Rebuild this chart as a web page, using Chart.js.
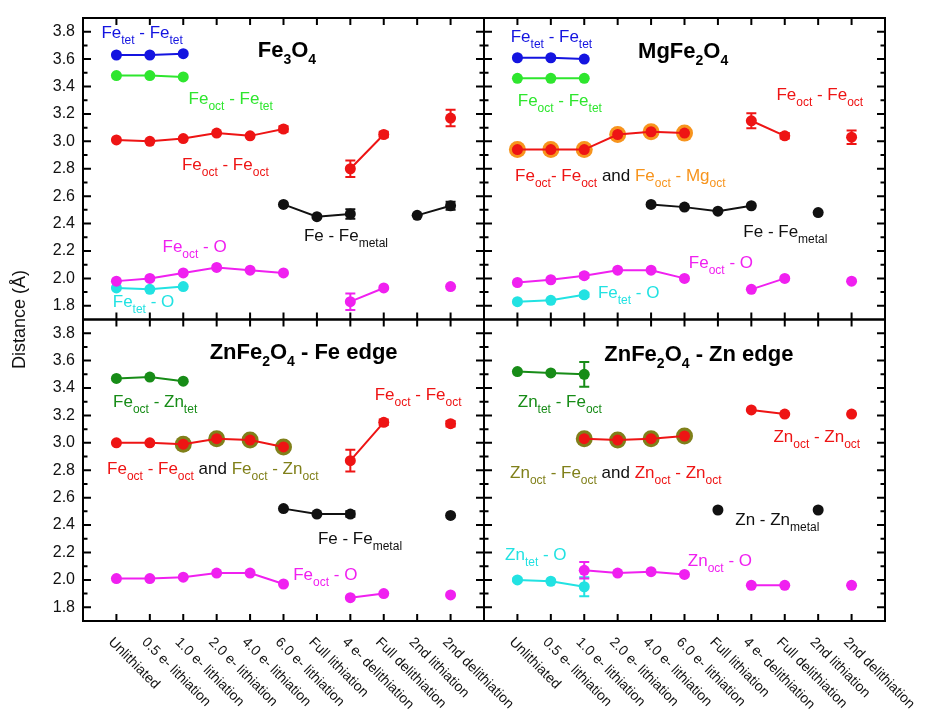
<!DOCTYPE html>
<html>
<head>
<meta charset="utf-8">
<script src="https://cdn.jsdelivr.net/npm/chart.js@4/dist/chart.umd.min.js"></script>
<style>
  html, body { margin: 0; padding: 0; background: #fff; }
  #wrap { width: 926px; height: 716px; position: relative; }
</style>
</head>
<body>
<div id="wrap"><canvas id="c" width="926" height="716"></canvas></div>
<script>
// Stages along the cycling sequence (shared by every panel)
const stages = ['Unlithiated', '0.5 e- lithiation', '1.0 e- lithiation', '2.0 e- lithiation',
  '4.0 e- lithiation', '6.0 e- lithiation', 'Full lithiation', '4 e- delithiation',
  'Full delithiation', '2nd lithiation', '2nd delithiation'];
const yTickLabels = ['1.8', '2.0', '2.2', '2.4', '2.6', '2.8', '3.0', '3.2', '3.4', '3.6', '3.8'];

// ---- Fe3O4 ----
const fe3o4TetTet    = [3.63, 3.63, 3.64, null, null, null, null, null, null, null, null];
const fe3o4OctTet    = [3.48, 3.48, 3.47, null, null, null, null, null, null, null, null];
const fe3o4OctOct    = [3.01, 3.00, 3.02, 3.06, 3.04, 3.09, null, 2.80, 3.05, null, 3.17];
const fe3o4OctOctErr = [0, 0, 0, 0, 0, 0.02, 0, 0.06, 0.02, 0, 0.06];
const fe3o4Metal     = [null, null, null, null, null, 2.54, 2.45, 2.47, null, 2.46, 2.53];
const fe3o4MetalErr  = [0, 0, 0, 0, 0, 0, 0, 0.035, 0, 0, 0.03];
const fe3o4OctO      = [1.98, 2.00, 2.04, 2.08, 2.06, 2.04, null, 1.83, 1.93, null, 1.94];
const fe3o4OctOErr   = [0, 0, 0, 0, 0, 0, 0, 0.06, 0, 0, 0];
const fe3o4TetO      = [1.93, 1.92, 1.94, null, null, null, null, null, null, null, null];

// ---- MgFe2O4 ----
const mgTetTet    = [3.61, 3.61, 3.60, null, null, null, null, null, null, null, null];
const mgOctTet    = [3.46, 3.46, 3.46, null, null, null, null, null, null, null, null];
const mgOctMg     = [2.94, 2.94, 2.94, 3.05, 3.07, 3.06, null, null, null, null, null];
const mgOctOct    = [2.94, 2.94, 2.94, 3.05, 3.07, 3.06, null, 3.15, 3.04, null, 3.03];
const mgOctOctErr = [0, 0, 0, 0, 0, 0, 0, 0.055, 0.02, 0, 0.05];
const mgMetal     = [null, null, null, null, 2.54, 2.52, 2.49, 2.53, null, 2.48, null];
const mgOctO      = [1.97, 1.99, 2.02, 2.06, 2.06, 2.00, null, 1.92, 2.00, null, 1.98];
const mgOctOErr   = [0, 0, 0.015, 0, 0, 0, 0, 0, 0, 0, 0];
const mgTetO      = [1.83, 1.84, 1.88, null, null, null, null, null, null, null, null];
const mgTetOErr   = [0, 0, 0.015, 0, 0, 0, 0, 0, 0, 0, 0];

// ---- ZnFe2O4, Fe K-edge ----
const znFeOctZnTet  = [3.47, 3.48, 3.45, null, null, null, null, null, null, null, null];
const znFeOctZnOct  = [null, null, 2.99, 3.03, 3.02, 2.97, null, null, null, null, null];
const znFeOctOct    = [3.00, 3.00, 2.99, 3.03, 3.02, 2.97, null, 2.87, 3.15, null, 3.14];
const znFeOctOctErr = [0, 0, 0, 0, 0, 0, 0, 0.08, 0.02, 0, 0.02];
const znFeMetal     = [null, null, null, null, null, 2.52, 2.48, 2.48, null, null, 2.47];
const znFeMetalErr  = [0, 0, 0, 0, 0, 0, 0, 0.02, 0, 0, 0];
const znFeOctO      = [2.01, 2.01, 2.02, 2.05, 2.05, 1.97, null, 1.87, 1.90, null, 1.89];

// ---- ZnFe2O4, Zn K-edge ----
const znZnTetFeOct    = [3.52, 3.51, 3.50, null, null, null, null, null, null, null, null];
const znZnTetFeOctErr = [0, 0, 0.09, 0, 0, 0, 0, 0, 0, 0, 0];
const znZnOctFeOct    = [null, null, 3.03, 3.02, 3.03, 3.05, null, null, null, null, null];
const znZnOctZnOct    = [null, null, 3.03, 3.02, 3.03, 3.05, null, 3.24, 3.21, null, 3.21];
const znZnMetal       = [null, null, null, null, null, null, 2.51, null, null, 2.51, null];
const znZnTetO        = [2.00, 1.99, 1.95, null, null, null, null, null, null, null, null];
const znZnTetOErr     = [0.01, 0, 0.07, 0, 0, 0, 0, 0, 0, 0, 0];
const znZnOctO        = [null, null, 2.07, 2.05, 2.06, 2.04, null, 1.96, 1.96, null, 1.96];
const znZnOctOErr     = [0, 0, 0.06, 0, 0, 0, 0, 0, 0, 0, 0];

// palette
const C = {
  blue: '#1414e0', lime: '#2ee62e', red: '#ee1414', black: '#111111', magenta: '#f020f0',
  cyan: '#22e2e2', dgreen: '#178c17', olive: '#80801a', orange: '#f7941d'
};
const FONT = '"Liberation Sans", Arial, Helvetica, sans-serif';

function series(values, color, xAxisID, yAxisID, extra) {
  return Object.assign({
    data: values.map((v, i) => ({ x: i, y: v })),
    xAxisID, yAxisID,
    borderColor: color, backgroundColor: color,
    pointBackgroundColor: color, pointBorderColor: color,
    borderWidth: 2, pointRadius: 5.5, pointBorderWidth: 0, pointHoverRadius: 5.5,
    spanGaps: false, order: 0
  }, extra || {});
}
// large halo marker drawn beneath a red series
function halo(values, color, xAxisID, yAxisID) {
  return series(values, color, xAxisID, yAxisID, { showLine: false, pointRadius: 8.5, pointHoverRadius: 8.5, order: 5 });
}

const datasets = [
  // Fe3O4
  series(fe3o4TetTet, C.blue, 'xL', 'yT'),
  series(fe3o4OctTet, C.lime, 'xL', 'yT'),
  series(fe3o4OctOct, C.red, 'xL', 'yT', { err: fe3o4OctOctErr }),
  series(fe3o4Metal, C.black, 'xL', 'yT', { err: fe3o4MetalErr }),
  series(fe3o4OctO, C.magenta, 'xL', 'yT', { err: fe3o4OctOErr }),
  series(fe3o4TetO, C.cyan, 'xL', 'yT'),
  // MgFe2O4
  series(mgTetTet, C.blue, 'xR', 'yT'),
  series(mgOctTet, C.lime, 'xR', 'yT'),
  halo(mgOctMg, C.orange, 'xR', 'yT'),
  series(mgOctOct, C.red, 'xR', 'yT', { err: mgOctOctErr }),
  series(mgMetal, C.black, 'xR', 'yT'),
  series(mgOctO, C.magenta, 'xR', 'yT', { err: mgOctOErr }),
  series(mgTetO, C.cyan, 'xR', 'yT', { err: mgTetOErr }),
  // ZnFe2O4 - Fe edge
  series(znFeOctZnTet, C.dgreen, 'xL', 'yB'),
  halo(znFeOctZnOct, C.olive, 'xL', 'yB'),
  series(znFeOctOct, C.red, 'xL', 'yB', { err: znFeOctOctErr }),
  series(znFeMetal, C.black, 'xL', 'yB', { err: znFeMetalErr }),
  series(znFeOctO, C.magenta, 'xL', 'yB'),
  // ZnFe2O4 - Zn edge
  series(znZnTetFeOct, C.dgreen, 'xR', 'yB', { err: znZnTetFeOctErr }),
  halo(znZnOctFeOct, C.olive, 'xR', 'yB'),
  series(znZnOctZnOct, C.red, 'xR', 'yB'),
  series(znZnMetal, C.black, 'xR', 'yB'),
  series(znZnTetO, C.cyan, 'xR', 'yB', { err: znZnTetOErr }),
  series(znZnOctO, C.magenta, 'xR', 'yB', { err: znZnOctOErr })
];

// Panel captions and bond labels, anchored in data coordinates (left edge, baseline)
const titles = [
  { x: 'xL', y: 'yT', at: [4.23, 3.617], text: 'Fe_{3}O_{4}' },
  { x: 'xR', y: 'yT', at: [3.61, 3.61], text: 'MgFe_{2}O_{4}' },
  { x: 'xL', y: 'yB', at: [2.79, 3.613], text: 'ZnFe_{2}O_{4} - Fe edge' },
  { x: 'xR', y: 'yB', at: [2.60, 3.595], text: 'ZnFe_{2}O_{4} - Zn edge' }
];
const notes = [
  // Fe3O4
  { x: 'xL', y: 'yT', at: [-0.45, 3.752], parts: [['Fe_{tet} - Fe_{tet}', C.blue]] },
  { x: 'xL', y: 'yT', at: [2.16, 3.275], parts: [['Fe_{oct} - Fe_{tet}', C.lime]] },
  { x: 'xL', y: 'yT', at: [1.96, 2.788], parts: [['Fe_{oct} - Fe_{oct}', C.red]] },
  { x: 'xL', y: 'yT', at: [5.61, 2.275], parts: [['Fe - Fe_{metal}', C.black]] },
  { x: 'xL', y: 'yT', at: [1.38, 2.19], parts: [['Fe_{oct} - O', C.magenta]] },
  { x: 'xL', y: 'yT', at: [-0.11, 1.788], parts: [['Fe_{tet} - O', C.cyan]] },
  // MgFe2O4
  { x: 'xR', y: 'yT', at: [-0.2, 3.724], parts: [['Fe_{tet} - Fe_{tet}', C.blue]] },
  { x: 'xR', y: 'yT', at: [0.01, 3.256], parts: [['Fe_{oct} - Fe_{tet}', C.lime]] },
  { x: 'xR', y: 'yT', at: [7.75, 3.305], parts: [['Fe_{oct} - Fe_{oct}', C.red]] },
  { x: 'xR', y: 'yT', at: [-0.07, 2.714], parts: [['Fe_{oct}- Fe_{oct}', C.red], [' and ', C.black], ['Fe_{oct} - Mg_{oct}', C.orange]] },
  { x: 'xR', y: 'yT', at: [6.76, 2.305], parts: [['Fe - Fe_{metal}', C.black]] },
  { x: 'xR', y: 'yT', at: [5.13, 2.078], parts: [['Fe_{oct} - O', C.magenta]] },
  { x: 'xR', y: 'yT', at: [2.41, 1.854], parts: [['Fe_{tet} - O', C.cyan]] },
  // ZnFe2O4 - Fe edge
  { x: 'xL', y: 'yB', at: [-0.1, 3.264], parts: [['Fe_{oct} - Zn_{tet}', C.dgreen]] },
  { x: 'xL', y: 'yB', at: [-0.28, 2.771], parts: [['Fe_{oct} - Fe_{oct}', C.red], [' and ', C.black], ['Fe_{oct} - Zn_{oct}', C.olive]] },
  { x: 'xL', y: 'yB', at: [7.73, 3.313], parts: [['Fe_{oct} - Fe_{oct}', C.red]] },
  { x: 'xL', y: 'yB', at: [6.03, 2.264], parts: [['Fe - Fe_{metal}', C.black]] },
  { x: 'xL', y: 'yB', at: [5.29, 1.996], parts: [['Fe_{oct} - O', C.magenta]] },
  // ZnFe2O4 - Zn edge
  { x: 'xR', y: 'yB', at: [0.01, 3.264], parts: [['Zn_{tet} - Fe_{oct}', C.dgreen]] },
  { x: 'xR', y: 'yB', at: [-0.22, 2.747], parts: [['Zn_{oct} - Fe_{oct}', C.olive], [' and ', C.black], ['Zn_{oct} - Zn_{oct}', C.red]] },
  { x: 'xR', y: 'yB', at: [7.66, 3.003], parts: [['Zn_{oct} - Zn_{oct}', C.red]] },
  { x: 'xR', y: 'yB', at: [6.52, 2.40], parts: [['Zn - Zn_{metal}', C.black]] },
  { x: 'xR', y: 'yB', at: [-0.37, 2.147], parts: [['Zn_{tet} - O', C.cyan]] },
  { x: 'xR', y: 'yB', at: [5.1, 2.10], parts: [['Zn_{oct} - O', C.magenta]] }
];

// split "Fe_{oct} - O" into plain / subscript runs
function runs(str) {
  const out = [];
  const re = /_\{([^}]*)\}/g;
  let last = 0, m;
  while ((m = re.exec(str))) {
    if (m.index > last) out.push({ t: str.slice(last, m.index), sub: false });
    out.push({ t: m[1], sub: true });
    last = re.lastIndex;
  }
  if (last < str.length) out.push({ t: str.slice(last), sub: false });
  return out;
}
function drawRich(ctx, x, y, parts, sz) {
  let cx = x;
  ctx.textAlign = 'left';
  ctx.textBaseline = 'alphabetic';
  for (const [str, color] of parts) {
    for (const r of runs(str)) {
      ctx.font = (sz.bold ? 'bold ' : '') + (r.sub ? sz.sub : sz.main) + 'px ' + FONT;
      ctx.fillStyle = color;
      ctx.fillText(r.t, cx, r.sub ? y + sz.off : y);
      cx += ctx.measureText(r.t).width;
    }
  }
}

// Vertical error bars with caps, drawn from each dataset's own scales
const errorBars = {
  id: 'errorBars',
  afterDatasetsDraw(chart) {
    const ctx = chart.ctx;
    ctx.save();
    chart.data.datasets.forEach((ds, i) => {
      if (!ds.err) return;
      const ys = chart.scales[ds.yAxisID];
      const meta = chart.getDatasetMeta(i);
      ds.data.forEach((p, j) => {
        const e = ds.err[j];
        if (p.y == null || !e) return;
        const px = meta.data[j].x;
        const top = ys.getPixelForValue(p.y + e);
        const bot = ys.getPixelForValue(p.y - e);
        ctx.strokeStyle = ds.borderColor;
        ctx.lineWidth = 2;
        ctx.beginPath();
        ctx.moveTo(px, top); ctx.lineTo(px, bot);
        ctx.moveTo(px - 5, top); ctx.lineTo(px + 5, top);
        ctx.moveTo(px - 5, bot); ctx.lineTo(px + 5, bot);
        ctx.stroke();
      });
    });
    ctx.restore();
  }
};

// Panel frames with inward ticks, tick labels, axis title and annotations
const frames = {
  id: 'frames',
  afterDraw(chart) {
    const ctx = chart.ctx;
    const S = chart.scales;
    ctx.save();
    ctx.strokeStyle = '#000';
    ctx.lineWidth = 2;
    const pairs = [['xL', 'yT'], ['xR', 'yT'], ['xL', 'yB'], ['xR', 'yB']];
    for (const [xk, yk] of pairs) {
      const xs = S[xk], ys = S[yk];
      ctx.strokeRect(xs.left, ys.top, xs.right - xs.left, ys.bottom - ys.top);
      ctx.beginPath();
      for (let k = 18; k <= 38; k++) {
        const py = ys.getPixelForValue(k / 10);
        const len = k % 2 === 0 ? 8 : 4.5;
        ctx.moveTo(xs.left, py); ctx.lineTo(xs.left + len, py);
        ctx.moveTo(xs.right, py); ctx.lineTo(xs.right - len, py);
      }
      for (let i = 0; i < stages.length; i++) {
        const px = xs.getPixelForValue(i);
        ctx.moveTo(px, ys.top); ctx.lineTo(px, ys.top + 7);
        ctx.moveTo(px, ys.bottom); ctx.lineTo(px, ys.bottom - 7);
      }
      ctx.stroke();
    }

    // y tick labels (left panels only)
    ctx.fillStyle = '#111';
    ctx.font = '16px ' + FONT;
    ctx.textAlign = 'right';
    ctx.textBaseline = 'middle';
    for (const yk of ['yT', 'yB']) {
      yTickLabels.forEach(lbl => {
        ctx.fillText(lbl, S.xL.left - 8, S[yk].getPixelForValue(parseFloat(lbl)));
      });
    }

    // rotated stage labels under the bottom panels
    ctx.font = '14px ' + FONT;
    ctx.textAlign = 'left';
    ctx.textBaseline = 'top';
    for (const xk of ['xL', 'xR']) {
      stages.forEach((lbl, i) => {
        const px = S[xk].getPixelForValue(i);
        ctx.save();
        ctx.translate(px - 1, S.yB.bottom + 14);
        ctx.rotate(Math.PI / 4);
        ctx.fillText(lbl, 0, 0);
        ctx.restore();
      });
    }

    // shared y-axis title
    ctx.save();
    ctx.font = '18px ' + FONT;
    ctx.textAlign = 'center';
    ctx.textBaseline = 'middle';
    ctx.translate(20, (S.yT.top + S.yB.bottom) / 2);
    ctx.rotate(-Math.PI / 2);
    ctx.fillText('Distance (\u00C5)', 0, 0);
    ctx.restore();

    // panel captions
    for (const t of titles) {
      const px = S[t.x].getPixelForValue(t.at[0]);
      const py = S[t.y].getPixelForValue(t.at[1]);
      drawRich(ctx, px, py, [[t.text, '#000']], { main: 22, sub: 14, off: 7, bold: true });
    }
    // bond labels
    for (const n of notes) {
      const px = S[n.x].getPixelForValue(n.at[0]);
      const py = S[n.y].getPixelForValue(n.at[1]);
      drawRich(ctx, px, py, n.parts, { main: 17, sub: 12, off: 6 });
    }
    ctx.restore();
  }
};

const axisBase = { type: 'linear', display: false };
new Chart(document.getElementById('c'), {
  type: 'line',
  data: { datasets },
  options: {
    responsive: false,
    animation: false,
    devicePixelRatio: 1,
    events: [],
    layout: { padding: { left: 83, top: 18, right: 41, bottom: 95 } },
    plugins: { legend: { display: false }, tooltip: { enabled: false } },
    scales: {
      xL: Object.assign({}, axisBase, { position: 'bottom', min: -1, max: 11, stack: 'stage', stackWeight: 1, weight: 0 }),
      xR: Object.assign({}, axisBase, { position: 'bottom', min: -1, max: 11, stack: 'stage', stackWeight: 1, weight: 1 }),
      yT: Object.assign({}, axisBase, { position: 'left', min: 1.7, max: 3.9, stack: 'dist', stackWeight: 1, weight: 1 }),
      yB: Object.assign({}, axisBase, { position: 'left', min: 1.7, max: 3.9, stack: 'dist', stackWeight: 1, weight: 0 })
    }
  },
  plugins: [errorBars, frames]
});
</script>
</body>
</html>
